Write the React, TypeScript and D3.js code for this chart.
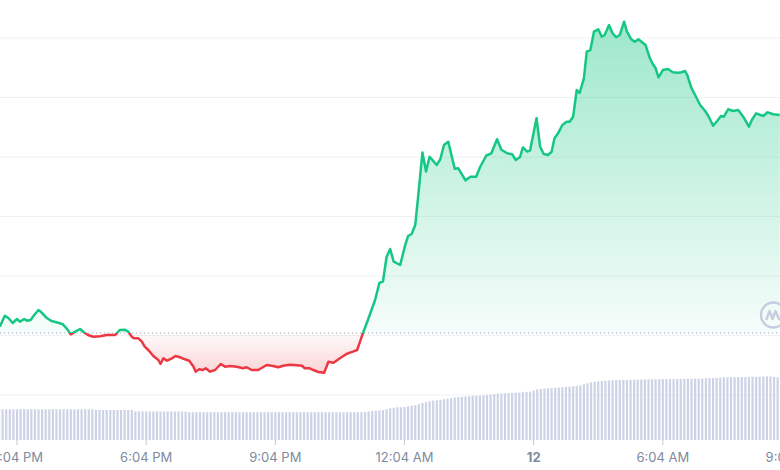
import React from "react";
import * as d3 from "d3";

// Price series: minutes since 00:00 of day 11, and price (arbitrary units, grid step 10)
const priceTimes = [
  880,887,892,898,904,908,914,918,923,928,
  934,938,945,952,959,968,973,979,985,992,
  997,1003,1010,1020,1029,1041,1047,1054,1059,1064,
  1067,1073,1078,1082,1087,1094,1101,1104,1108,1113,
  1120,1125,1131,1138,1144,1150,1153,1158,1163,1167,
  1173,1180,1188,1194,1201,1210,1219,1224,1231,1240,
  1252,1261,1268,1275,1284,1294,1301,1305,1312,1317,
  1324,1332,1338,1345,1354,1363,1372,1378,1382,1386,
  1393,1403,1409,1414,1419,1424,1429,1438,1445,1449,
  1454,1459,1463,1469,1474,1479,1489,1494,1499,1505,
  1514,1519,1529,1536,1544,1549,1558,1565,1573,1579,
  1587,1594,1599,1605,1609,1615,1619,1628,1633,1638,
  1644,1649,1653,1658,1664,1670,1674,1679,1684,1688,
  1694,1698,1703,1708,1714,1719,1723,1729,1734,1739,
  1744,1750,1754,1760,1765,1770,1776,1780,1786,1790,
  1794,1798,1804,1811,1818,1825,1830,1835,1838,1844,
  1849,1856,1863,1868,1874,1880,1885,1889,1895,1902,
  1909,1916,1924,1928,1934,1944,1950,1958,1967,
];

const prices = [
  111.48,113.33,112.94,112.10,112.77,112.32,112.77,112.49,112.61,113.45,
  114.29,113.90,112.99,112.44,112.22,111.88,111.21,110.20,110.64,111.09,
  110.54,110.08,109.80,109.87,110.08,110.08,110.92,110.98,110.64,109.80,
  109.53,109.53,108.96,108.12,107.56,106.55,105.88,105.21,106.17,105.76,
  106.17,106.55,106.34,106.00,105.76,104.76,103.92,104.32,104.20,104.49,
  103.92,104.20,105.21,104.76,104.87,104.76,104.49,104.66,104.20,104.20,
  105.04,104.87,104.66,104.92,105.09,104.99,104.92,104.49,104.49,104.20,
  103.87,103.75,105.60,105.43,106.17,106.89,107.28,107.56,108.96,110.37,
  112.61,115.97,118.82,119.08,123.19,124.54,122.40,121.85,125.21,126.72,
  127.06,128.57,133.33,140.76,137.56,140.05,138.66,139.66,142.02,142.57,
  138.03,138.10,136.08,136.69,136.69,138.24,140.25,140.62,142.98,141.23,
  140.62,140.47,139.50,140.00,141.60,140.89,141.13,146.51,141.73,140.50,
  140.34,140.89,143.14,143.98,145.38,145.93,145.93,146.77,151.26,150.76,
  153.23,157.70,157.98,161.06,161.46,160.22,160.50,162.18,160.79,160.12,
  160.50,162.74,161.06,159.78,159.38,159.78,159.21,158.82,156.59,155.63,
  154.91,153.39,154.62,154.79,154.24,154.17,154.24,154.45,153.78,151.55,
  150.42,148.74,147.73,146.77,145.26,146.10,146.89,146.77,148.02,147.73,
  147.90,146.77,145.09,146.22,147.34,146.89,147.51,147.18,147.06,
];

const openPrice = 110.42;

// Volume bars: one every 5 minutes starting at 14:39
const volumeStart = 879;
const volumeStep = 5;
const volumes = [
  307,307,307,307,307,307,307,307,307,307,307,307,307,307,307,307,307,307,307,307,307,307,307,307,307,307,307,
  300,300,300,300,300,300,300,300,300,300,300,
  285,285,285,285,285,285,285,285,285,285,285,285,285,285,285,
  278,278,278,278,278,278,278,278,278,278,278,278,278,278,278,278,278,278,278,278,278,278,278,278,278,
  278,278,278,278,278,278,278,278,278,278,278,278,278,278,278,278,278,278,278,278,278,278,278,278,278,
  285,290,293,296,300,308,317,322,327,327,330,337,342,348,358,370,380,388,394,397,
  402,408,413,418,425,429,432,435,439,442,443,445,447,450,454,460,463,465,467,468,
  470,473,473,478,482,483,495,507,510,515,517,520,522,524,527,530,533,537,540,547,
  557,567,576,582,586,590,593,596,598,600,600,
  601,601,602,603,604,604,605,606,607,
  607,608,608,609,609,610,610,611,612,612,613,614,614,
  615,617,619,620,622,625,
  627,627,628,628,629,630,630,631,632,632,633,
  635,637,637,630,627,627,
];

const tickMinutes = [904, 1084, 1264, 1444, 1624, 1804, 1984];
const tickLabels = ["3:04 PM", "6:04 PM", "9:04 PM", "12:04 AM", "12", "6:04 AM", "9:04 AM"];
const boldTicks = ["12"];

const gridPrices = [100, 110, 120, 130, 140, 150, 160];

const W = 780;
const H = 470;
const GREEN = "#16c784";
const RED = "#ea3943";

export default function App() {
  const x = d3.scaleLinear().domain([904, 1984]).range([17, 792]);
  const y = d3.scaleLinear().domain([100, 160]).range([395, 38]);
  const yv = d3.scaleLinear().domain([0, 800]).range([440, 360]);

  const data = priceTimes.map((t, i) => ({ t, p: prices[i] })).filter((d) => d.p !== undefined);
  const yBase = y(openPrice);

  const line = d3
    .line<{ t: number; p: number }>()
    .x((d) => x(d.t))
    .y((d) => y(d.p));
  const area = d3
    .area<{ t: number; p: number }>()
    .x((d) => x(d.t))
    .y0(yBase)
    .y1((d) => y(d.p));

  const lineD = line(data) || "";
  const areaD = area(data) || "";

  const barW = 2.2;

  return (
    <svg
      width={W}
      height={H}
      style={{ position: "absolute", left: 0, top: 0, background: "#fff" }}
      fontFamily="Inter, 'Noto Sans', sans-serif"
    >
      <defs>
        <clipPath id="clipUp">
          <rect x={0} y={0} width={W} height={yBase} />
        </clipPath>
        <clipPath id="clipDown">
          <rect x={0} y={yBase} width={W} height={H - yBase} />
        </clipPath>
        <linearGradient id="gGreen" gradientUnits="userSpaceOnUse" x1={0} y1={20} x2={0} y2={yBase}>
          <stop offset="0" stopColor={GREEN} stopOpacity={0.42} />
          <stop offset="1" stopColor={GREEN} stopOpacity={0.04} />
        </linearGradient>
        <linearGradient id="gRed" gradientUnits="userSpaceOnUse" x1={0} y1={yBase} x2={0} y2={378}>
          <stop offset="0" stopColor={RED} stopOpacity={0.02} />
          <stop offset="1" stopColor={RED} stopOpacity={0.24} />
        </linearGradient>
      </defs>

      {/* grid */}
      {gridPrices.map((g) => (
        <line key={g} x1={0} x2={W} y1={y(g)} y2={y(g)} stroke="#eff1f4" strokeWidth={1} />
      ))}

      {/* volume bars */}
      {volumes.map((v, i) => {
        const t = volumeStart + i * volumeStep;
        const cx = x(t);
        return (
          <rect
            key={i}
            x={cx - barW / 2}
            y={yv(v)}
            width={barW}
            height={yv(0) - yv(v)}
            fill="#cdd3e6"
          />
        );
      })}

      {/* areas */}
      <path d={areaD} fill="url(#gGreen)" clipPath="url(#clipUp)" />
      <path d={areaD} fill="url(#gRed)" clipPath="url(#clipDown)" />

      {/* baseline */}
      <line
        x1={0}
        x2={W}
        y1={yBase}
        y2={yBase}
        stroke="#a3a9b6"
        strokeWidth={1}
        strokeDasharray="1.2 2.8"
      />

      {/* price line */}
      <path d={lineD} fill="none" stroke={GREEN} strokeWidth={2.5} strokeLinejoin="round" clipPath="url(#clipUp)" />
      <path d={lineD} fill="none" stroke={RED} strokeWidth={2.5} strokeLinejoin="round" clipPath="url(#clipDown)" />

      {/* watermark */}
      <g transform="translate(773.5,315)" fill="none" stroke="#c6cddf" strokeWidth={2.4} strokeLinecap="round" strokeLinejoin="round">
        <circle r={12.5} />
        <path d="M-7,4 L-4,-4 L-1,4 L2,-4 L5,3 Q7,6 9,2" />
      </g>

      {/* x axis ticks and labels */}
      {tickMinutes.map((t, i) => (
        <g key={t} transform={`translate(${x(t)},0)`}>
          <line y1={440} y2={445} stroke="#c3c8d3" strokeWidth={1} />
          <text
            y={461.5}
            textAnchor="middle"
            fontSize={13}
            fill="#808a9d"
            fontWeight={boldTicks.includes(tickLabels[i]) ? 700 : 400}
          >
            {tickLabels[i]}
          </text>
        </g>
      ))}
    </svg>
  );
}
